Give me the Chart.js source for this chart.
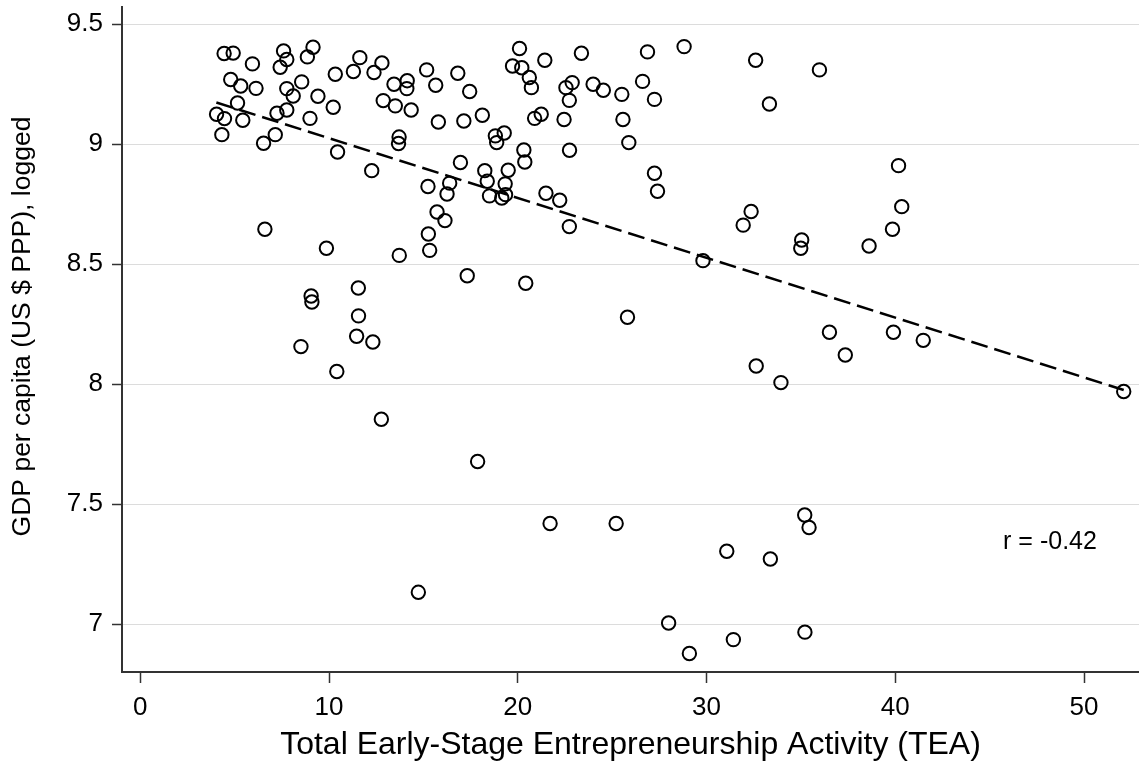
<!DOCTYPE html>
<html>
<head>
<meta charset="utf-8">
<script src="https://cdn.jsdelivr.net/npm/chart.js@4"></script>
<style>
  html, body { margin: 0; padding: 0; background: #fff; }
  #wrap { width: 1139px; height: 771px; }
</style>
</head>
<body>
<div id="wrap"><canvas id="tea-chart" width="1139" height="771"></canvas></div>
<script>
// TEA (x) and log GDP per capita (y), one entry per country
const teaValues = [
  4.44, 4.92, 7.59, 9.15, 7.76, 7.41, 8.85, 5.94, 4.79, 5.32, 6.13, 7.76, 8.55, 8.10, 9.41,
  5.15, 4.04, 4.46, 5.43, 7.24, 7.76, 8.99, 4.32, 6.53, 7.15, 10.22, 10.33, 11.29, 11.63, 12.38,
  12.80, 13.44, 14.14, 14.12, 12.87, 13.51, 14.35, 15.17, 15.65, 16.82, 17.45, 15.79, 17.14, 13.71, 13.68,
  10.45, 12.26, 16.96, 15.24, 16.39, 16.25, 15.72, 16.14, 15.26, 6.60,
  18.12, 20.09, 19.72, 20.21, 20.61, 20.72, 21.43, 23.37, 26.87, 28.81, 32.60, 22.55, 22.88, 22.73, 23.99,
  24.53, 25.51, 26.61, 27.24, 20.89, 21.24, 22.45, 25.57, 25.88, 22.74, 18.81, 19.28, 18.88, 20.32, 20.37,
  18.25, 18.38, 19.49, 19.33, 18.50, 19.15, 19.35, 21.49, 22.22, 22.73, 27.24, 27.40, 32.36, 31.94,
  35.98, 33.33, 40.17, 40.34, 39.85, 35.04, 34.99, 38.61, 36.51, 37.35, 39.90, 41.48, 32.63, 33.94, 52.10,
  9.86, 13.72, 15.33, 17.32, 9.05, 9.09, 11.55, 11.56, 11.46, 12.32, 8.51, 10.41, 12.77,
  20.42, 29.81, 25.81, 17.87, 21.71, 25.21, 14.73, 35.20, 35.43, 31.07, 33.38, 27.99, 31.42, 29.09, 35.21
];
const gdpValues = [
  9.378, 9.380, 9.389, 9.404, 9.353, 9.321, 9.364, 9.335, 9.270, 9.243, 9.233, 9.232, 9.260, 9.201, 9.200,
  9.172, 9.125, 9.107, 9.100, 9.129, 9.143, 9.108, 9.040, 9.004, 9.040, 9.154, 9.292, 9.303, 9.361, 9.299,
  9.339, 9.250, 9.265, 9.232, 9.182, 9.160, 9.143, 9.310, 9.246, 9.296, 9.220, 9.093, 9.097, 9.030, 9.003,
  8.968, 8.890, 8.924, 8.824, 8.838, 8.793, 8.718, 8.682, 8.626, 8.646,
  9.121, 9.399, 9.326, 9.319, 9.278, 9.236, 9.350, 9.379, 9.385, 9.407, 9.350, 9.236, 9.257, 9.183, 9.250,
  9.225, 9.208, 9.262, 9.187, 9.108, 9.125, 9.103, 9.103, 9.007, 8.975, 9.035, 9.047, 9.007, 8.976, 8.926,
  8.890, 8.846, 8.892, 8.835, 8.785, 8.776, 8.790, 8.796, 8.767, 8.657, 8.879, 8.804, 8.720, 8.663,
  9.310, 9.168, 8.911, 8.740, 8.646, 8.601, 8.567, 8.576, 8.217, 8.122, 8.217, 8.183, 8.076, 8.007, 7.970,
  8.567, 8.537, 8.558, 8.452, 8.368, 8.343, 8.401, 8.285, 8.200, 8.176, 8.157, 8.053, 7.854,
  8.421, 8.515, 8.279, 7.678, 7.420, 7.420, 7.133, 7.455, 7.403, 7.304, 7.272, 7.005, 6.936, 6.878, 6.967
];

// fitted line end points
const trendX = [4.03, 52.1];
const trendY = [9.174, 7.976];

const xTicks = [0, 10, 20, 30, 40, 50];
const yTicks = [7, 7.5, 8, 8.5, 9, 9.5];
const yTickLabels = ['7', '7.5', '8', '8.5', '9', '9.5'];

const xTitle = 'Total Early-Stage Entrepreneurship Activity (TEA)';
const yTitle = 'GDP per capita (US $ PPP), logged';
const rLabel = 'r = -0.42';

const FONT = '"Liberation Sans", Arial, sans-serif';
const AXIS = '#333333';

// y title and r annotation
const extraText = {
  id: 'extraText',
  afterDraw(chart) {
    const { ctx, chartArea, scales } = chart;
    ctx.save();
    ctx.fillStyle = '#000';

    ctx.font = '26.5px ' + FONT;
    ctx.textAlign = 'center';
    ctx.textBaseline = 'middle';
    ctx.translate(23, (chartArea.top + chartArea.bottom) / 2 - 13);
    ctx.rotate(-Math.PI / 2);
    ctx.fillText(yTitle, 0, 0);
    ctx.restore();

    ctx.save();
    ctx.fillStyle = '#000';
    ctx.font = '25px ' + FONT;
    ctx.textAlign = 'left';
    ctx.textBaseline = 'alphabetic';
    ctx.fillText(rLabel, scales.x.getPixelForValue(45.71), scales.y.getPixelForValue(7.314));
    ctx.restore();
  }
};

const points = teaValues.map((v, i) => ({ x: v, y: gdpValues[i] }));
const trend = trendX.map((v, i) => ({ x: v, y: trendY[i] }));

const ctx = document.getElementById('tea-chart').getContext('2d');

new Chart(ctx, {
  type: 'scatter',
  data: {
    datasets: [
      {
        data: points,
        pointStyle: 'circle',
        pointRadius: 6.7,
        pointBorderWidth: 2,
        borderColor: '#000',
        backgroundColor: 'rgba(0,0,0,0)',
        pointHoverRadius: 6.7,
        order: 1,
      },
      {
        type: 'line',
        data: trend,
        showLine: true,
        borderColor: '#000',
        borderWidth: 2.5,
        borderDash: [17, 7],
        pointRadius: 0,
        fill: false,
        order: 2,
      },
    ],
  },
  options: {
    responsive: false,
    animation: false,
    devicePixelRatio: 1,
    layout: { autoPadding: false, padding: { top: 7, right: 0, bottom: 0, left: 0 } },
    plugins: {
      legend: { display: false },
      tooltip: { enabled: false },
    },
    scales: {
      x: {
        type: 'linear',
        min: -0.97,
        max: 52.91,
        afterBuildTicks: (s) => { s.ticks = xTicks.map((v) => ({ value: v })); },
        afterFit: (s) => {
          s.height = 99;
          s.paddingLeft = 0;
          s.paddingRight = 0;
        },
        ticks: {
          color: '#000',
          font: { family: FONT, size: 26 },
          padding: 9,
          maxRotation: 0,
        },
        grid: {
          drawOnChartArea: false,
          drawTicks: true,
          tickLength: 11,
          tickColor: AXIS,
          tickWidth: 1.5,
        },
        border: { display: true, color: AXIS, width: 2 },
        title: {
          display: true,
          text: xTitle,
          color: '#000',
          font: { family: FONT, size: 32 },
          padding: { top: 0, bottom: 7 },
        },
      },
      y: {
        type: 'linear',
        min: 6.801,
        max: 9.572,
        afterBuildTicks: (s) => { s.ticks = yTicks.map((v) => ({ value: v })); },
        afterFit: (s) => {
          s.width = 122;
          s.paddingTop = 0;
          s.paddingBottom = 0;
        },
        ticks: {
          color: '#000',
          font: { family: FONT, size: 26 },
          padding: 9,
          callback: (v, i) => yTickLabels[i],
        },
        grid: {
          color: '#dcdcdc',
          lineWidth: 1,
          drawTicks: true,
          tickLength: 10,
          tickColor: AXIS,
          tickWidth: 1.5,
        },
        border: { display: true, color: AXIS, width: 2 },
      },
    },
  },
  plugins: [extraText],
});
</script>
</body>
</html>
